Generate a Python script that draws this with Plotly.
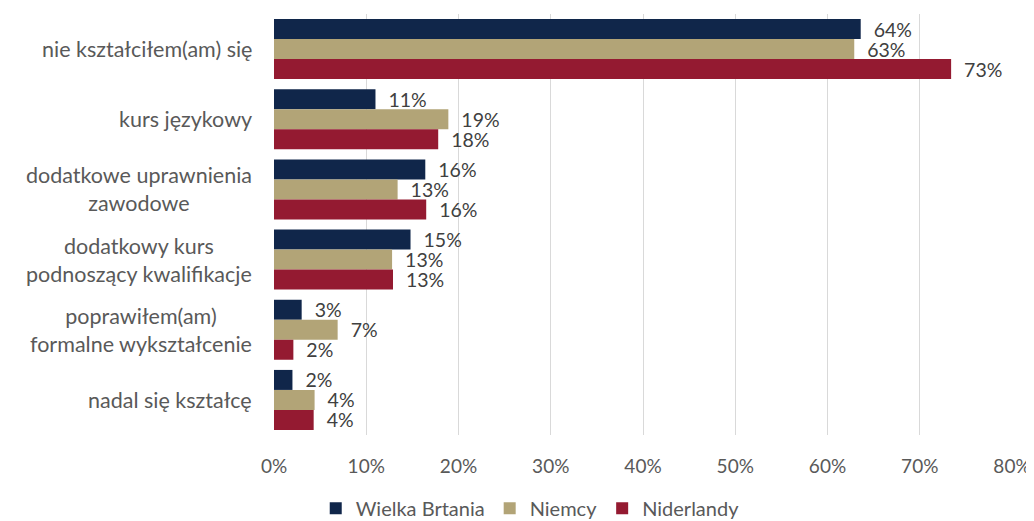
import plotly.graph_objects as go

# categories, top to bottom
categories = [
    "nie kształciłem(am) się",
    "kurs językowy",
    "dodatkowe uprawnienia<br>zawodowe",
    "dodatkowy kurs<br>podnoszący kwalifikacje",
    "poprawiłem(am)<br>formalne wykształcenie",
    "nadal się kształcę",
]

series_names = ["Wielka Brtania", "Niemcy", "Niderlandy"]
uk_values = [63.6, 11.0, 16.4, 14.8, 3.0, 2.0]
de_values = [62.9, 18.9, 13.4, 12.8, 6.9, 4.4]
nl_values = [73.4, 17.8, 16.5, 12.9, 2.1, 4.3]
colors = ["#10264A", "#B2A477", "#941A31"]

x_ticks = [0, 10, 20, 30, 40, 50, 60, 70, 80]
x_tick_labels = ["0%", "10%", "20%", "30%", "40%", "50%", "60%", "70%", "80%"]

FONT = "Lato, 'Open Sans', sans-serif"

fig = go.Figure()

for name, vals, col in zip(series_names, [uk_values, de_values, nl_values], colors):
    fig.add_trace(go.Bar(
        y=categories,
        x=vals,
        name=name,
        orientation="h",
        marker=dict(color=col, line=dict(width=0)),
        # non-breaking spaces give the gap between bar end and label
        text=[f"\u00a0\u00a0{v:.0f}%" for v in vals],
        textposition="outside",
        constraintext="none",
        textangle=0,
        textfont=dict(size=19.5, color="#404040", family=FONT),
        cliponaxis=False,
    ))

# category labels, centred multi-line like the original
for cat in categories:
    fig.add_annotation(
        x=0, y=cat, xref="x", yref="y",
        text=cat, showarrow=False,
        xanchor="right", xshift=-20,
        align="center",
        font=dict(size=21.5, color="#595959", family=FONT),
    )

# page body adds an 8px offset, so the figure is 8px smaller than the window
fig.update_layout(
    barmode="group",
    bargap=0.145,
    bargroupgap=0,
    width=1026, height=513,
    margin=dict(l=266, r=22, t=6, b=86, autoexpand=False),
    plot_bgcolor="white",
    paper_bgcolor="white",
    font=dict(family=FONT, size=20, color="#595959"),
    legend=dict(
        orientation="h",
        xref="container", yref="container",
        x=0.509, xanchor="center",
        y=0.025, yanchor="middle",
        font=dict(size=20, color="#595959"),
        itemwidth=30,
    ),
)

fig.update_xaxes(
    range=[0, 80],
    tickvals=x_ticks,
    ticktext=x_tick_labels,
    showgrid=True,
    gridcolor="#D9D9D9",
    gridwidth=1,
    zeroline=False,
    showline=False,
    ticks="",
    automargin=False,
    ticklabelstandoff=18,
    tickfont=dict(size=19, color="#595959"),
)

fig.update_yaxes(
    autorange="reversed",
    showticklabels=False,
    showgrid=False,
    zeroline=False,
    showline=False,
    ticks="",
    automargin=False,
)

fig.write_html("out.html")
